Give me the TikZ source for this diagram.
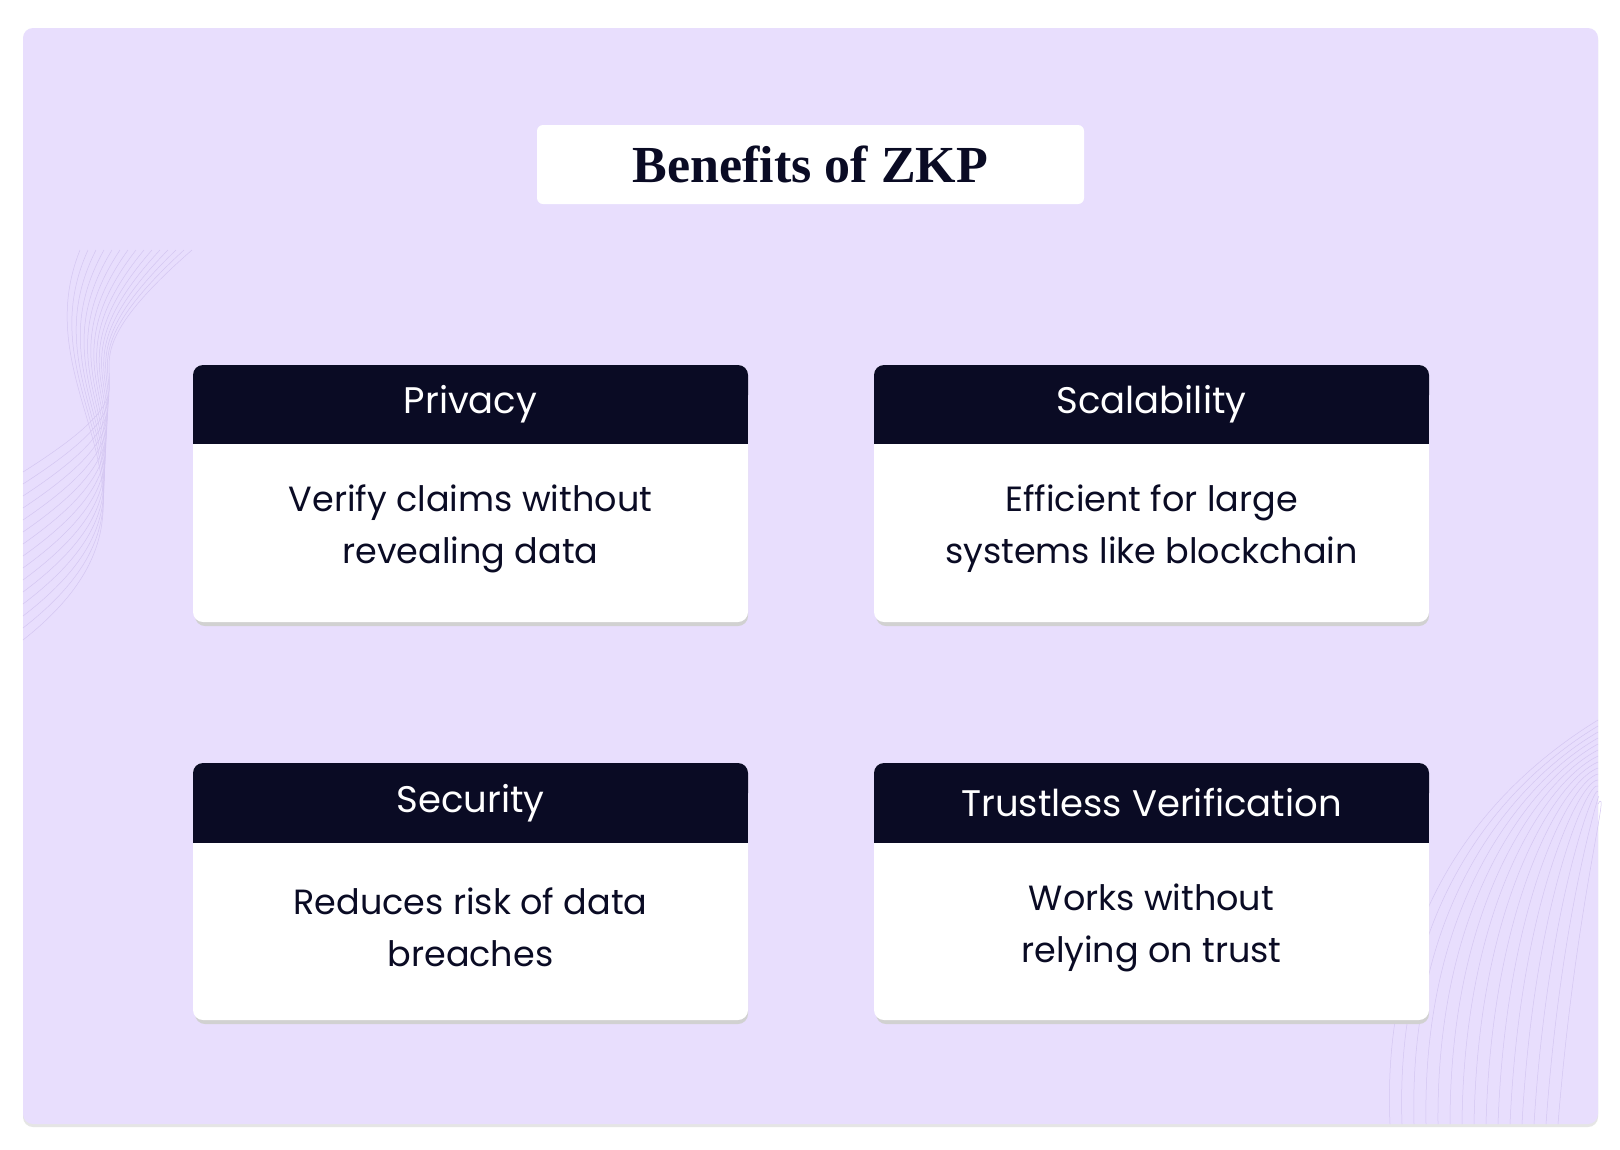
\documentclass[tikz,border=0pt]{standalone}
\usepackage{fontspec}
\setmainfont{Poppins}
\newfontfamily\titlefont{Liberation Serif}
\definecolor{panel}{HTML}{E8DEFD}
\definecolor{navy}{HTML}{0A0B24}
\definecolor{line}{HTML}{D4C6F2}
\tikzset{
  hdr/.style={text=white,font=\fontsize{37}{44}\selectfont},
  body/.style={text=navy,font=\fontsize{35}{52}\selectfont,align=center},
}
\newcommand{\card}[6]{%
  \fill[black!18,rounded corners=10pt] ({#1+2},{#2+4}) rectangle ({#1+555},{#2+261});
  \fill[white,rounded corners=10pt] (#1,#2) rectangle ({#1+555},{#2+257});
  \fill[navy,rounded corners=10pt] (#1,#2) rectangle ({#1+555},{#2+40});
  \fill[navy] ({#1},{#2+20}) rectangle ({#1+555},{#2+#3});
  \node[hdr] (#5h) at ({#1+277.5},{#2+#3/2}) {#4};
  \node[body] (#5b) at ({#1+277.5},{#2+#3+(257-#3)/2-4}) {#6};
}
\begin{document}
\begin{tikzpicture}[x=1pt,y=-1pt]
\useasboundingbox (0,0) rectangle (1620,1149);
\fill[white] (0,0) rectangle (1620,1149);
\fill[black!10,rounded corners=10pt] (23,30) rectangle (1598,1127);
\fill[panel,rounded corners=10pt] (23,28) rectangle (1598,1124);
\begin{scope}[line,line width=0.5pt]
\foreach \i in {0,...,14}{
  \draw ({1390+\i*12},1124) .. controls ({1380+\i*14},900) and ({1500+\i*8},780) .. (1598,{720+\i*6});
  \draw (23,{640-\i*12}) .. controls (200,{500-\i*10}) and (20,400) .. ({80+\i*8},250);
}
\end{scope}
\fill[white,rounded corners=6pt] (537,125) rectangle (1084,204);
\node[text=navy,font=\titlefont\bfseries\fontsize{52}{60}\selectfont] (title) at (810.5,164) {Benefits of ZKP};
\card{193}{365}{79}{Privacy}{p}{Verify claims without\\revealing data}
\card{874}{365}{79}{Scalability}{s}{Efficient for large\\systems like blockchain}
\card{193}{763}{80}{Security}{c}{Reduces risk of data\\breaches}
\card{874}{763}{80}{Trustless Verification}{t}{Works without\\relying on trust}
\end{tikzpicture}
\end{document}
